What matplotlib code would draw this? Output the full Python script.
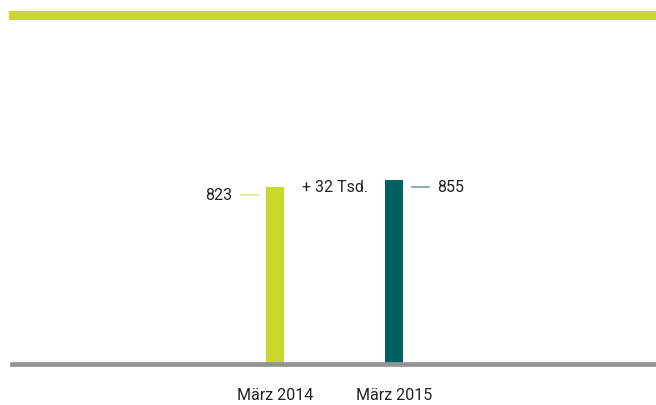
import matplotlib.pyplot as plt
from matplotlib.patches import Rectangle

# data
labels = ['März 2014', 'März 2015']
values = [823, 855]
colors = ['#c8d92b', '#006161']
line_colors = ['#dfe88f', '#6fa7a5']
diff_label = '+ 32 Tsd.'

plt.rcParams['font.family'] = ['Roboto', 'DejaVu Sans']

fig = plt.figure(figsize=(6.56, 4.05), dpi=100)
ax = fig.add_axes([12 / 656, 41 / 405, 644 / 656, 344 / 405])

x = list(range(len(values)))
ax.bar(x, values, width=0.151, color=colors, zorder=1)

ax.set_xlim(-2.21, 3.2)
ax.set_ylim(0, 1600)

# value labels with short leader lines
ax.text(-0.36, values[0] - 38, str(values[0]), ha='right', va='center',
        fontsize=11.5, color='#222222')
ax.plot([-0.285, -0.145], [values[0] - 38, values[0] - 38],
        color=line_colors[0], lw=1.2)
ax.text(1.36, values[1] - 32, str(values[1]), ha='left', va='center',
        fontsize=11.5, color='#222222')
ax.plot([1.15, 1.29], [values[1] - 32, values[1] - 32],
        color=line_colors[1], lw=1.2)
ax.text(0.5, values[1] - 32, diff_label, ha='center', va='center',
        fontsize=11.5, color='#222222')

ax.set_xticks(x)
ax.set_xticklabels(labels, fontsize=11.5, color='#222222')
ax.tick_params(axis='x', length=0, pad=17)
ax.set_yticks([])
for side in ['top', 'right', 'left']:
    ax.spines[side].set_visible(False)
ax.spines['bottom'].set_color('#939393')
ax.spines['bottom'].set_linewidth(3.4)
ax.spines['bottom'].set_zorder(3)

# top accent bar
fig.patches.append(Rectangle((9 / 656, (405 - 19) / 405), 1 - 9 / 656, 8 / 405,
                             transform=fig.transFigure, color=colors[0],
                             figure=fig))

fig.savefig('out.png', dpi=100)
